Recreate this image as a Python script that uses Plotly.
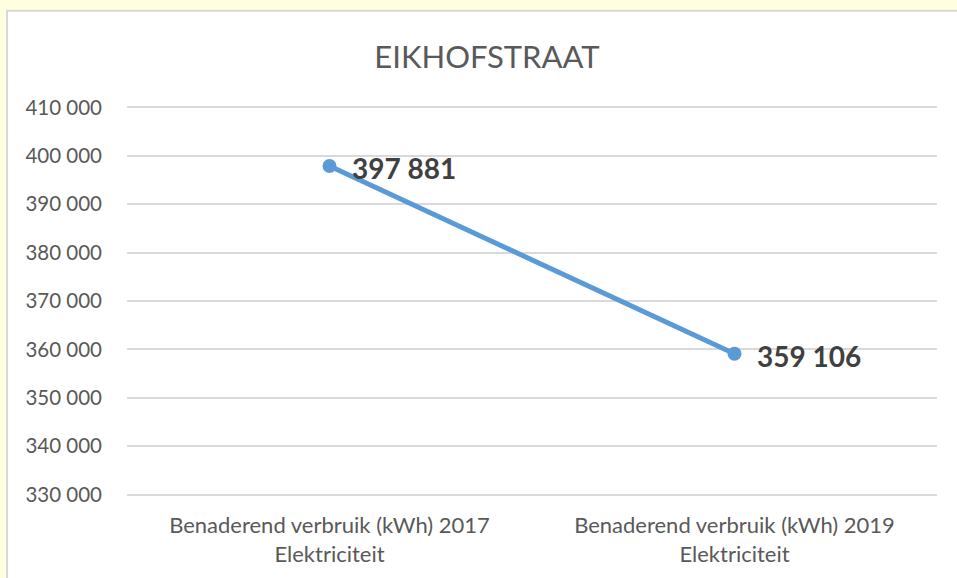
import plotly.graph_objects as go

categories = ["Benaderend verbruik (kWh) 2017<br>Elektriciteit",
              "Benaderend verbruik (kWh) 2019<br>Elektriciteit"]
values = [397881, 359106]
title_text = "EIKHOFSTRAAT"
y_ticks = [330000, 340000, 350000, 360000, 370000, 380000, 390000, 400000, 410000]
y_range = [329500, 410500]

W, H = 957, 578
L, R = 127, 20
T = 107 - 388 * 500 / 80000
B = (H - 495) - 388 * 500 / 80000
pw, ph = W - L - R, H - T - B

def px_x(p):
    return (p - L) / pw

def px_y(p):
    return (H - B - p) / ph

fig = go.Figure()
fig.add_trace(go.Scatter(
    x=categories, y=values, mode="lines+markers",
    line=dict(color="#5B9BD5", width=5),
    marker=dict(color="#5B9BD5", size=14),
    hoverinfo="skip",
))

for c, v in zip(categories, values):
    fig.add_annotation(x=c, y=v, xref="x", yref="y",
                       text="<b>" + f"{v:,}".replace(",", " ") + "</b>",
                       showarrow=False, xanchor="left", yanchor="middle",
                       xshift=20, yshift=-2,
                       font=dict(family="Lato", size=28, color="#404040"))

fig.add_shape(type="rect", xref="paper", yref="paper",
              x0=px_x(7), x1=px_x(970), y0=px_y(590), y1=px_y(10),
              fillcolor="white", line=dict(color="#D9D9D9", width=2), layer="below")

fig.update_layout(
    width=W, height=H,
    margin=dict(l=L, r=R, t=T, b=B, autoexpand=False),
    paper_bgcolor="#FFFFE0",
    plot_bgcolor="rgba(0,0,0,0)",
    separators=", ",
    showlegend=False,
    font=dict(family="Lato", color="#595959"),
    title=dict(text=title_text, x=487 / W, xanchor="center",
               y=1 - 57 / H, yanchor="middle", yref="container",
               font=dict(family="Lato", size=31, color="#595959")),
    xaxis=dict(type="category", range=[-0.5, 1.5], automargin=False,
               showgrid=False, zeroline=False, showline=False,
               ticks="", ticklabelstandoff=13,
               tickfont=dict(size=22, color="#595959")),
    yaxis=dict(range=y_range, tickvals=y_ticks, tickformat=",d", automargin=False,
               showgrid=True, gridcolor="#D9D9D9", gridwidth=1.5,
               zeroline=False, showline=False, ticks="",
               ticklabelstandoff=24,
               tickfont=dict(size=20.5, color="#595959")),
)

fig.write_html("out.html",
               config={"displayModeBar": False},
               post_script="document.body.style.margin='0';"
                           "document.body.style.background='#FFFFE0';"
                           "document.body.style.overflow='hidden';")
